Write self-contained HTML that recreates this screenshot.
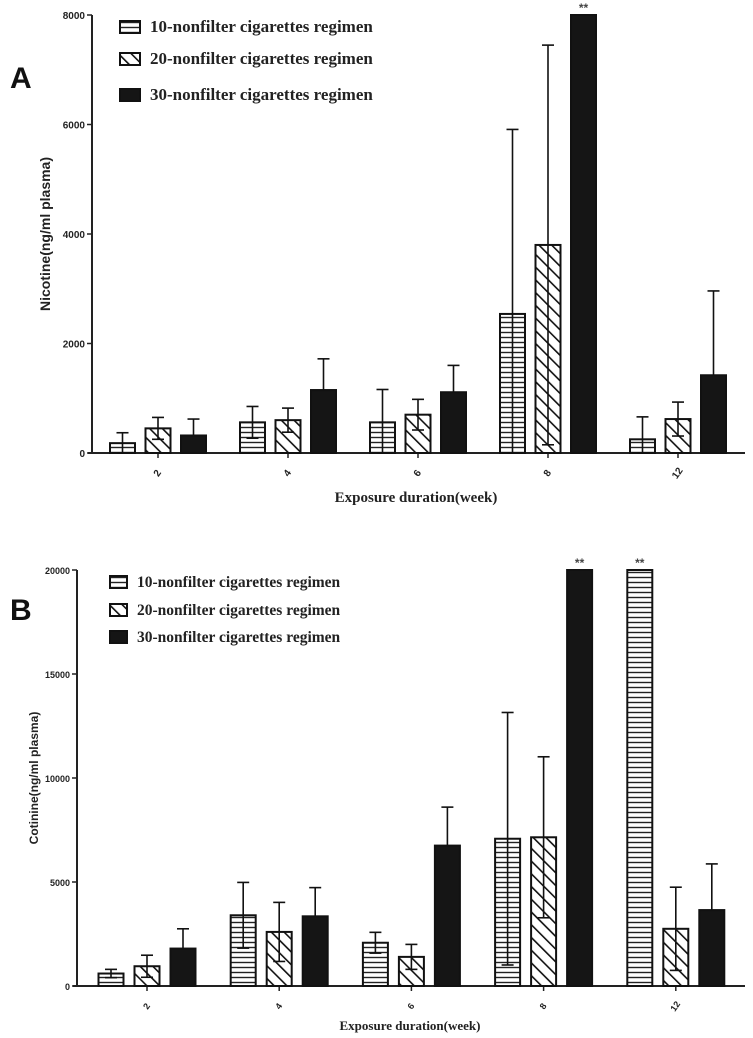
<!DOCTYPE html>
<html><head><meta charset="utf-8"><style>
body{margin:0;background:#fff}
svg{display:block}
</style></head><body>
<svg id="chart" width="753" height="1038" viewBox="0 0 753 1038" xmlns="http://www.w3.org/2000/svg">
<defs>
<pattern id="hz" width="6" height="5" patternUnits="userSpaceOnUse"><rect width="6" height="5" fill="#fff"/><line x1="0" y1="2.5" x2="6" y2="2.5" stroke="#222" stroke-width="1.4"/></pattern>
<pattern id="dg" width="9" height="9" patternUnits="userSpaceOnUse" patternTransform="rotate(-45)"><rect width="9" height="9" fill="#fff"/><line x1="0" y1="0" x2="0" y2="9" stroke="#111" stroke-width="3.2"/></pattern>
</defs>
<g id="panelA"></g>
<g id="panelB"></g>
</svg>
<script>
const categories = ["2","4","6","8","12"];
const seriesNames = ["10-nonfilter cigarettes regimen","20-nonfilter cigarettes regimen","30-nonfilter cigarettes regimen"];
const nicMean10 = [180,560,560,2540,250];
const nicMean20 = [450,600,700,3800,620];
const nicMean30 = [320,1150,1110,8000,1420];
const nicErr10 = [190,290,600,3370,410];
const nicErr20 = [200,220,280,3650,310];
const nicErr30 = [300,570,490,0,1540];
const nicTicks = [0,2000,4000,6000,8000];
const cotMean10 = [600,3400,2080,7080,20000];
const cotMean20 = [950,2600,1400,7150,2750];
const cotMean30 = [1800,3350,6750,20000,3650];
const cotErr10 = [200,1580,500,6070,0];
const cotErr20 = [530,1420,600,3870,2000];
const cotErr30 = [950,1380,1850,0,2220];
const cotTicks = [0,5000,10000,15000,20000];
const nicStars = [[3,2]];
const cotStars = [[3,2],[4,0]];

const NS="http://www.w3.org/2000/svg";
function mk(parent,tag,attrs,text){const e=document.createElementNS(NS,tag);for(const k in attrs)e.setAttribute(k,attrs[k]);if(text!==undefined)e.textContent=text;parent.appendChild(e);return e;}

function drawPanel(g,cfg){
  const y=v=>cfg.y0-(v/cfg.max)*(cfg.y0-cfg.yTop);
  const x=i=>cfg.x0+i*cfg.step;
  const fills=["url(#hz)","url(#dg)","#151515"];
  const means=cfg.means, errs=cfg.errs;
  const ax=mk(g,'line',{x1:cfg.axX,y1:cfg.yTop,x2:cfg.axX,y2:cfg.y0,stroke:'#222','stroke-width':2});
  
  
  const bx=mk(g,'line',{x1:cfg.axX-4,y1:cfg.y0,x2:cfg.xEnd,y2:cfg.y0,stroke:'#222','stroke-width':2});
  
  
  cfg.ticks.forEach(t=>{
    mk(g,'line',{x1:cfg.axX-5,y1:y(t),x2:cfg.axX,y2:y(t),stroke:'#222','stroke-width':1.5});
    const tl=mk(g,'text',{x:cfg.axX-7,y:y(t)+4,'text-anchor':'end','font-family':'Liberation Sans, sans-serif','font-weight':'bold','font-size':cfg.tickFs,fill:'#222'},String(t));
    
    
  });
  categories.forEach((c,i)=>{
    mk(g,'line',{x1:x(i),y1:cfg.y0,x2:x(i),y2:cfg.y0+5,stroke:'#222','stroke-width':1.5});
    const tl=mk(g,'text',{x:0,y:0,'text-anchor':'middle','font-family':'Liberation Sans, sans-serif','font-weight':'bold','font-size':cfg.tickFs,fill:'#222',transform:`translate(${x(i)+2},${cfg.y0+22}) rotate(-55)`},c);
    
    
    for(let s=0;s<3;s++){
      const cx=x(i)+(s-1)*cfg.off, v=means[s][i], e=errs[s][i];
      if(e>0){
        mk(g,'line',{x1:cx,y1:y(v+e),x2:cx,y2:y(Math.max(0,v-e)),stroke:'#111','stroke-width':1.6});
        mk(g,'line',{x1:cx-6,y1:y(v+e),x2:cx+6,y2:y(v+e),stroke:'#111','stroke-width':1.6});
      }
      const r=mk(g,'rect',{x:cx-cfg.bw/2,y:y(v),width:cfg.bw,height:cfg.y0-y(v),fill:fills[s],stroke:'#111','stroke-width':2});
      
      
      if(e>0 && s<2){
        mk(g,'line',{x1:cx,y1:y(v),x2:cx,y2:y(Math.max(0,v-e)),stroke:'#111','stroke-width':1.6});
        mk(g,'line',{x1:cx-6,y1:y(Math.max(0,v-e)),x2:cx+6,y2:y(Math.max(0,v-e)),stroke:'#111','stroke-width':1.6});
      }
    }
  });
  cfg.stars.forEach(([i,s])=>{
    const cx=x(i)+(s-1)*cfg.off;
    const st=mk(g,'text',{x:cx,y:y(means[s][i])-3,'text-anchor':'middle','font-family':'Liberation Sans, sans-serif','font-weight':'bold','font-size':12,fill:'#444'},'**');
    
    
  });
  seriesNames.forEach((n,s)=>{
    const ly=cfg.legY[s];
    const lr=mk(g,'rect',{x:cfg.legX,y:ly-6,width:cfg.legW,height:12,fill:fills[s],stroke:'#111','stroke-width':2});
    
    
    const lt=mk(g,'text',{x:cfg.legX+cfg.legW+10,y:ly+5,'font-family':'Liberation Serif, serif','font-weight':'bold','font-size':cfg.legFs,fill:'#222'},n);
    
    
  });
  const yt=mk(g,'text',{x:0,y:0,'text-anchor':'middle','font-family':'Liberation Sans, sans-serif','font-weight':'bold','font-size':cfg.yTitleFs,fill:'#222',transform:`translate(${cfg.yTitleX},${(cfg.yTop+cfg.y0)/2}) rotate(-90)`},cfg.yTitle);
  
  
  const xt=mk(g,'text',{x:cfg.xTitleX,y:cfg.xTitleY,'text-anchor':'middle','font-family':'Liberation Serif, serif','font-weight':'bold','font-size':cfg.xTitleFs,fill:'#222'},'Exposure duration(week)');
  
  
  const pl=mk(g,'text',{x:10,y:cfg.letterY,'font-family':'Liberation Sans, sans-serif','font-weight':'bold','font-size':30,fill:'#111'},cfg.letter);
  
  
}

drawPanel(document.getElementById('panelA'),{
  means:[nicMean10,nicMean20,nicMean30],errs:[nicErr10,nicErr20,nicErr30],ticks:nicTicks,max:8000,
  y0:453,yTop:15,axX:92,xEnd:745,x0:158,step:130,off:35.5,bw:25,stars:nicStars,tickFs:10,
  legX:120,legW:20,legY:[27,59,95],legFs:17,yTitle:'Nicotine(ng/ml plasma)',yTitleX:50,yTitleFs:14,
  xTitleX:416,xTitleY:502,xTitleFs:15,letter:'A',letterY:88
});
drawPanel(document.getElementById('panelB'),{
  means:[cotMean10,cotMean20,cotMean30],errs:[cotErr10,cotErr20,cotErr30],ticks:cotTicks,max:20000,
  y0:986,yTop:570,axX:77,xEnd:745,x0:147,step:132.2,off:36,bw:25,stars:cotStars,tickFs:9,
  legX:110,legW:17,legY:[582,610,637],legFs:15.5,yTitle:'Cotinine(ng/ml plasma)',yTitleX:38,yTitleFs:12,
  xTitleX:410,xTitleY:1030,xTitleFs:13,letter:'B',letterY:620
});
</script>
</body></html>
